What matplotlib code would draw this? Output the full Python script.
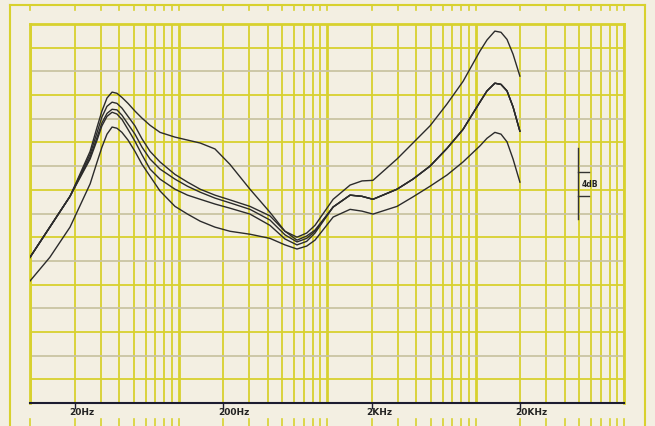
import numpy as np
import matplotlib.pyplot as plt
from matplotlib import transforms

# frequency points (Hz)
freq = [10, 13.6, 18.6, 25.4, 28.3, 30.5, 33.0, 35.7, 38.5, 41.6, 45.7, 50.9, 56.8, 64.3,
        75.1, 94.7, 115, 140, 176, 222, 303, 413, 521, 628, 730, 830, 1100, 1430, 1720,
        2040, 2960, 3790, 4940, 6430, 8240, 10700, 11950, 13500, 14850, 16300, 17900, 19900]

# levels in dB (bottom of the grid = 0 dB, 4 dB per division)
curve_1 = [24.6, 29.7, 34.9, 42.5, 46.6, 49.3, 51.5, 52.5, 52.3, 51.6, 50.6, 49.3, 48.1, 46.9,
           45.7, 44.9, 44.4, 43.9, 42.9, 40.3, 36.1, 32.2, 29.0, 28.0, 28.7, 30.0, 34.4, 36.8,
           37.5, 37.6, 41.2, 43.9, 46.8, 50.5, 54.3, 59.4, 61.3, 62.8, 62.6, 61.4, 58.9, 55.2]
curve_2 = [24.6, 29.7, 34.9, 42.0, 45.7, 48.3, 50.1, 50.8, 50.6, 49.8, 48.4, 46.8, 44.6, 42.5,
           40.7, 38.6, 37.3, 36.1, 35.1, 34.3, 33.2, 31.6, 29.0, 27.5, 28.2, 29.2, 33.1, 35.1,
           34.9, 34.4, 36.1, 37.8, 40.0, 43.0, 46.2, 50.8, 52.7, 54.0, 53.8, 52.7, 50.0, 45.9]
curve_3 = [24.6, 29.7, 34.9, 41.5, 44.9, 47.3, 48.9, 49.6, 49.5, 48.6, 47.1, 45.4, 43.2, 41.2,
           39.5, 37.8, 36.6, 35.6, 34.6, 33.8, 32.7, 30.9, 28.4, 27.2, 27.8, 29.0, 33.1, 35.1,
           34.9, 34.4, 36.1, 37.8, 40.0, 43.0, 46.2, 50.8, 52.7, 54.0, 53.8, 52.7, 50.0, 45.9]
curve_4 = [24.6, 29.7, 34.9, 41.2, 44.4, 46.8, 48.4, 49.1, 48.8, 47.9, 46.2, 44.2, 41.9, 39.5,
           37.8, 36.1, 35.1, 34.4, 33.6, 32.9, 31.9, 30.0, 27.7, 26.7, 27.3, 28.7, 33.1, 35.1,
           34.9, 34.4, 36.1, 37.8, 40.0, 43.0, 46.2, 50.8, 52.7, 54.0, 53.8, 52.7, 50.0, 45.9]
curve_5 = [20.6, 24.6, 29.7, 37.0, 40.7, 43.2, 45.4, 46.6, 46.4, 45.7, 44.4, 42.5, 40.3, 38.3,
           35.8, 33.2, 31.9, 30.7, 29.7, 29.0, 28.5, 27.8, 26.7, 26.0, 26.5, 27.5, 31.4, 32.7,
           32.4, 31.9, 33.2, 34.8, 36.6, 38.5, 40.7, 43.4, 44.7, 45.7, 45.4, 44.1, 41.2, 37.3]

curves = [curve_1, curve_2, curve_3, curve_4, curve_5]

freq_labels = ["20Hz", "200Hz", "2KHz", "20KHz"]
freq_label_pos = [20, 200, 2000, 20000]

paper = "#f3efe2"
yellow = "#d8d12e"
grayline = "#c9c4a2"
ink = "#2b2b2b"

fig = plt.figure(figsize=(6.55, 4.27), dpi=100)
fig.patch.set_facecolor(paper)
ax = fig.add_axes([30 / 655, 1 - 404 / 427, 594 / 655, 379 / 427])
ax.set_facecolor(paper)
ax.set_xscale("log")
ax.set_xlim(10, 100000)
ax.set_ylim(0, 64)

# grid lines
grid_f = [m * 10 ** d for d in range(1, 5) for m in range(1, 10)] + [100000]
for f in grid_f:
    decade = abs(np.log10(f) - round(np.log10(f))) < 1e-9
    ax.axvline(f, color=yellow, lw=2.0 if decade else 1.3, zorder=1)
for k, lev in enumerate(range(4, 64, 4)):
    ax.axhline(lev, color=yellow if k % 2 == 0 else grayline, lw=1.3, zorder=1)

for c in curves:
    ax.plot(freq, c, color=ink, lw=1.0, zorder=3, solid_joinstyle="round")

ax.set_xticks([])
ax.set_yticks([])
ax.minorticks_off()
for s in ["left", "top", "right"]:
    ax.spines[s].set_color(yellow)
    ax.spines[s].set_linewidth(2)
ax.spines["bottom"].set_color("#1c1c30")
ax.spines["bottom"].set_linewidth(1.5)

# outer frame with tick marks
blend = transforms.blended_transform_factory(ax.transData, fig.transFigure)
fig.add_artist(plt.Line2D([10 / 655, 10 / 655], [0, 1 - 6 / 427], color=yellow, lw=1.5))
fig.add_artist(plt.Line2D([10 / 655, 645 / 655], [1 - 6 / 427, 1 - 6 / 427], color=yellow, lw=1.5))
fig.add_artist(plt.Line2D([645 / 655, 645 / 655], [0, 1 - 6 / 427], color=yellow, lw=1.5))
for f in grid_f:
    ax.plot([f, f], [1 - 6 / 427, 1 - 11 / 427], transform=blend, color=yellow, lw=1.2, clip_on=False)
    ax.plot([f, f], [0, 7 / 427], transform=blend, color=yellow, lw=1.2, clip_on=False)

# frequency labels
lab_tr = transforms.offset_copy(blend, fig=fig, x=-5, y=0, units="dots")
for f, t in zip(freq_label_pos, freq_labels):
    ax.plot([f, f], [1 - 404 / 427, 1 - 409 / 427], transform=blend, color="#1c1c30", lw=1, clip_on=False)
    ax.text(f, 1 - 413 / 427, t, transform=lab_tr, ha="left", va="center",
            fontsize=6.5, fontweight="bold", color="#222222")

# 4dB scale marker
mx = (578 - 30) / 594
ax.plot([mx, mx], [31, 43], transform=ax.get_yaxis_transform(), color="#333333", lw=1, zorder=4)
for lev in [35, 39]:
    ax.plot([mx, mx + 11 / 594], [lev, lev], transform=ax.get_yaxis_transform(), color="#333333", lw=1, zorder=4)
ax.text(mx + 4 / 594, 37, "4dB", transform=ax.get_yaxis_transform(), ha="left", va="center",
        fontsize=5.5, fontweight="bold", color="#222222", zorder=4)

fig.savefig("out.png", dpi=100, facecolor=paper)
